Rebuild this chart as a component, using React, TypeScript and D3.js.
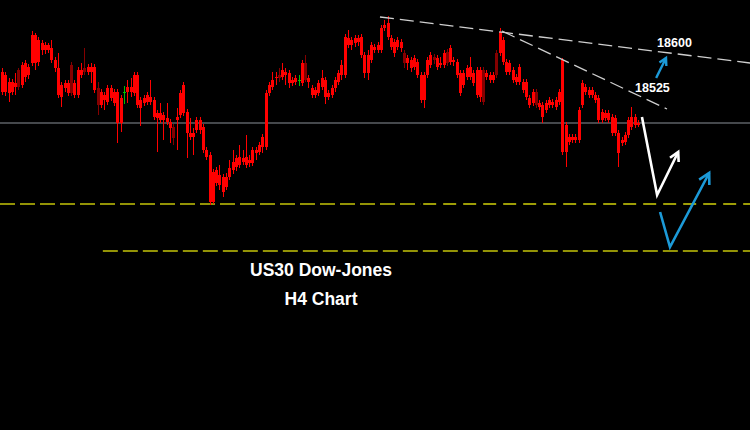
import React, { useRef, useEffect } from 'react';
import * as d3 from 'd3';
import { select } from 'd3';

const W = 750;
const H = 430;

// H4 bars, [open, high, low, close]
const candles: [number, number, number, number][] = [
  [18556, 18564, 18510, 18516], [18550, 18556, 18508, 18516], [18536, 18544, 18496, 18514], [18536, 18542, 18510, 18516],
  [18534, 18554, 18510, 18526], [18560, 18564, 18520, 18526], [18570, 18576, 18524, 18530], [18574, 18580, 18536, 18546],
  [18566, 18572, 18542, 18550], [18574, 18638, 18568, 18630], [18630, 18634, 18560, 18574], [18620, 18626, 18568, 18576],
  [18614, 18620, 18590, 18600], [18610, 18616, 18592, 18600], [18610, 18614, 18594, 18600], [18604, 18620, 18574, 18580],
  [18580, 18586, 18556, 18564], [18564, 18594, 18504, 18510], [18530, 18536, 18486, 18506], [18534, 18540, 18516, 18524],
  [18534, 18540, 18508, 18514], [18570, 18576, 18508, 18514], [18534, 18540, 18504, 18510], [18560, 18566, 18504, 18510],
  [18560, 18574, 18544, 18550], [18564, 18604, 18550, 18556], [18566, 18572, 18550, 18556], [18566, 18574, 18534, 18556],
  [18566, 18572, 18514, 18520], [18524, 18536, 18470, 18490], [18516, 18522, 18484, 18490], [18510, 18516, 18480, 18500],
  [18524, 18530, 18490, 18496], [18524, 18530, 18498, 18504], [18516, 18522, 18488, 18494], [18516, 18522, 18414, 18454],
  [18504, 18510, 18436, 18454], [18512, 18528, 18492, 18516], [18526, 18540, 18494, 18516], [18526, 18544, 18506, 18516],
  [18550, 18556, 18508, 18514], [18550, 18556, 18484, 18490], [18500, 18506, 18448, 18484], [18504, 18510, 18488, 18494],
  [18510, 18516, 18490, 18496], [18506, 18540, 18490, 18496], [18500, 18506, 18460, 18466], [18474, 18480, 18396, 18464],
  [18474, 18494, 18454, 18460], [18470, 18476, 18420, 18460], [18464, 18494, 18450, 18456], [18456, 18462, 18414, 18444],
  [18446, 18452, 18410, 18424], [18466, 18484, 18400, 18460], [18514, 18520, 18464, 18470], [18530, 18536, 18468, 18474],
  [18476, 18482, 18384, 18434], [18434, 18464, 18420, 18426], [18434, 18444, 18390, 18426], [18460, 18466, 18434, 18440],
  [18460, 18466, 18432, 18440], [18446, 18452, 18394, 18400], [18400, 18406, 18380, 18386], [18390, 18396, 18290, 18296],
  [18356, 18362, 18292, 18296], [18360, 18366, 18328, 18334], [18350, 18370, 18320, 18330], [18346, 18352, 18306, 18316],
  [18346, 18354, 18320, 18326], [18364, 18380, 18340, 18346], [18376, 18400, 18352, 18360], [18384, 18390, 18358, 18366],
  [18386, 18410, 18364, 18370], [18384, 18400, 18370, 18376], [18386, 18430, 18364, 18370], [18380, 18390, 18366, 18374],
  [18400, 18406, 18368, 18374], [18400, 18406, 18380, 18394], [18410, 18416, 18390, 18396], [18426, 18432, 18394, 18406],
  [18406, 18520, 18400, 18514], [18530, 18536, 18508, 18514], [18540, 18556, 18520, 18526], [18546, 18556, 18530, 18544],
  [18550, 18564, 18536, 18544], [18560, 18574, 18540, 18546], [18556, 18564, 18530, 18550], [18554, 18560, 18524, 18534],
  [18540, 18546, 18528, 18534], [18544, 18550, 18530, 18536], [18538, 18550, 18528, 18540], [18574, 18580, 18528, 18534],
  [18574, 18590, 18536, 18540], [18544, 18550, 18524, 18536], [18524, 18530, 18504, 18510], [18520, 18526, 18504, 18510],
  [18534, 18540, 18508, 18514], [18544, 18560, 18520, 18526], [18540, 18546, 18492, 18506], [18514, 18520, 18500, 18506],
  [18524, 18530, 18504, 18510], [18540, 18546, 18516, 18524], [18554, 18560, 18530, 18536], [18570, 18580, 18540, 18550],
  [18550, 18632, 18544, 18626], [18624, 18640, 18604, 18610], [18620, 18626, 18600, 18610], [18624, 18630, 18606, 18614],
  [18624, 18630, 18608, 18616], [18626, 18632, 18584, 18590], [18590, 18596, 18544, 18554], [18590, 18600, 18540, 18554],
  [18610, 18616, 18574, 18580], [18606, 18612, 18594, 18600], [18610, 18616, 18594, 18600], [18600, 18650, 18594, 18644],
  [18650, 18660, 18638, 18644], [18654, 18668, 18620, 18626], [18624, 18630, 18600, 18606], [18616, 18622, 18586, 18594],
  [18620, 18626, 18600, 18606], [18616, 18622, 18596, 18604], [18594, 18600, 18564, 18574], [18584, 18590, 18560, 18574],
  [18580, 18586, 18556, 18564], [18584, 18590, 18560, 18566], [18576, 18582, 18544, 18550], [18550, 18556, 18494, 18500],
  [18550, 18556, 18484, 18500], [18580, 18586, 18544, 18550], [18590, 18596, 18564, 18570], [18586, 18592, 18572, 18580],
  [18584, 18590, 18560, 18566], [18574, 18586, 18564, 18570], [18594, 18600, 18564, 18570], [18596, 18602, 18568, 18574],
  [18604, 18610, 18570, 18576], [18580, 18586, 18568, 18576], [18576, 18582, 18544, 18550], [18554, 18560, 18508, 18514],
  [18554, 18560, 18524, 18530], [18564, 18570, 18540, 18546], [18566, 18586, 18540, 18546], [18554, 18560, 18528, 18534],
  [18560, 18566, 18504, 18510], [18560, 18566, 18496, 18506], [18560, 18566, 18490, 18496], [18554, 18560, 18540, 18546],
  [18550, 18556, 18534, 18540], [18550, 18556, 18534, 18540], [18594, 18600, 18544, 18550], [18594, 18644, 18588, 18636],
  [18620, 18626, 18570, 18576], [18576, 18582, 18550, 18556], [18574, 18580, 18550, 18556], [18560, 18566, 18534, 18540],
  [18546, 18552, 18530, 18536], [18566, 18572, 18530, 18536], [18536, 18542, 18514, 18520], [18536, 18542, 18500, 18506],
  [18504, 18510, 18484, 18490], [18516, 18522, 18488, 18494], [18516, 18522, 18484, 18490], [18494, 18500, 18480, 18486],
  [18490, 18496, 18454, 18466], [18494, 18500, 18474, 18480], [18500, 18506, 18484, 18490], [18496, 18502, 18484, 18490],
  [18500, 18506, 18480, 18486], [18516, 18522, 18490, 18496], [18580, 18584, 18390, 18396], [18450, 18456, 18366, 18396],
  [18426, 18432, 18410, 18416], [18426, 18432, 18414, 18420], [18426, 18432, 18414, 18420], [18480, 18486, 18414, 18420],
  [18534, 18540, 18484, 18490], [18526, 18532, 18510, 18516], [18520, 18526, 18504, 18510], [18520, 18526, 18504, 18510],
  [18510, 18516, 18494, 18500], [18504, 18510, 18454, 18460], [18476, 18482, 18454, 18460], [18474, 18480, 18458, 18464],
  [18474, 18480, 18454, 18460], [18466, 18472, 18428, 18434], [18464, 18470, 18428, 18434], [18434, 18440, 18366, 18394],
  [18420, 18426, 18408, 18414], [18430, 18436, 18410, 18416], [18460, 18466, 18424, 18430], [18466, 18486, 18440, 18446],
  [18466, 18472, 18444, 18450], [18454, 18460, 18446, 18450],
];

const dimBars = [5, 21, 25, 29, 52, 84, 92, 122, 131, 135, 146, 150, 162];
const greenBars = [37, 90];

// horizontal levels
const midLine = 18454;
const support1 = 18292;
const support2 = 18198;
const support1Split = 126.9; // bar where the old support turns into the thin projection
const support2Start = 30.6;

// trend lines, [bar, price]
const upperTrend: [number, number][] = [[114.7, 18666], [227, 18574]];
const lowerTrend: [number, number][] = [[151.7, 18638], [201.8, 18482]];

// projection arrows, [bar, price]
const whiteArrow: [number, number][] = [[194.2, 18466], [198.8, 18310], [205.2, 18396]];
const blueArrow: [number, number][] = [[199.7, 18276], [202.7, 18206], [214.6, 18354]];
const targetArrow: [number, number][] = [[198.5, 18544], [201.5, 18584]];

const targetLabels = ['18600', '18525'];
const targetPos: [number, number][] = [[198.8, 18606], [192.1, 18516]];

const titleLines = ['US30 Dow-Jones', 'H4 Chart'];

function App() {
  const ref = useRef<SVGSVGElement>(null);

  useEffect(() => {
    const node = ref.current;
    if (!node) return;
    node.querySelectorAll('*').forEach(n => n.remove());
    const svg = select(node);

    const x = d3.scaleLinear().domain([0, candles.length - 1]).range([2, 638]);
    const y = d3.scaleLinear().domain([17840, 18700]).range([H, 0]);
    const bodyW = 3;

    svg.append('rect').attr('width', W).attr('height', H).attr('fill', '#000');

    // levels
    svg.append('line')
      .attr('x1', 0).attr('x2', W)
      .attr('y1', y(midLine)).attr('y2', y(midLine))
      .attr('stroke', '#8a8f98').attr('stroke-width', 1.2);

    svg.append('line')
      .attr('x1', 0).attr('x2', x(support1Split))
      .attr('y1', y(support1)).attr('y2', y(support1))
      .attr('stroke', '#939306').attr('stroke-width', 2)
      .attr('stroke-dasharray', '15 5');
    svg.append('line')
      .attr('x1', x(support1Split) + 3).attr('x2', W)
      .attr('y1', y(support1)).attr('y2', y(support1))
      .attr('stroke', '#d2d20a').attr('stroke-width', 1.3)
      .attr('stroke-dasharray', '13 7');
    svg.append('line')
      .attr('x1', x(support2Start)).attr('x2', W)
      .attr('y1', y(support2)).attr('y2', y(support2))
      .attr('stroke', '#939306').attr('stroke-width', 2)
      .attr('stroke-dasharray', '15 5');

    // candles
    const g = svg.append('g').attr('shape-rendering', 'crispEdges');
    candles.forEach((c, i) => {
      const [o, hi, lo, cl] = c;
      const col = greenBars.includes(i) ? '#00c000' : dimBars.includes(i) ? '#850000' : '#ff0000';
      const cx = Math.round(x(i));
      g.append('rect')
        .attr('x', cx).attr('width', 1)
        .attr('y', y(hi)).attr('height', y(lo) - y(hi))
        .attr('fill', col);
      if (greenBars.includes(i)) return;
      const top = y(Math.max(o, cl));
      const bh = Math.max(1, y(Math.min(o, cl)) - top);
      g.append('rect')
        .attr('x', cx - 1).attr('width', bodyW)
        .attr('y', top).attr('height', bh)
        .attr('fill', col);
    });
    // doji ticks on the green bars
    greenBars.forEach(i => {
      g.append('rect')
        .attr('x', Math.round(x(i)) - 1).attr('width', 3)
        .attr('y', y(candles[i][3])).attr('height', 1)
        .attr('fill', '#00c000');
    });

    // trend lines
    const line = d3.line<[number, number]>().x(d => x(d[0])).y(d => y(d[1]));
    [upperTrend, lowerTrend].forEach(t => {
      svg.append('path')
        .attr('d', line(t))
        .attr('fill', 'none')
        .attr('stroke', '#cfcfcf').attr('stroke-width', 1.3)
        .attr('stroke-dasharray', '14 6');
    });

    // arrows with open heads
    const drawArrow = (pts: [number, number][], color: string, w: number, head: number) => {
      svg.append('path')
        .attr('d', line(pts))
        .attr('fill', 'none')
        .attr('stroke', color).attr('stroke-width', w)
        .attr('stroke-linejoin', 'miter');
      const a = pts[pts.length - 2];
      const b = pts[pts.length - 1];
      const tx = x(b[0]), ty = y(b[1]);
      const ang = Math.atan2(ty - y(a[1]), tx - x(a[0]));
      const arm = (s: number) => [tx - head * Math.cos(ang + s), ty - head * Math.sin(ang + s)];
      const p1 = arm(0.5), p2 = arm(-0.5);
      svg.append('path')
        .attr('d', `M${p1[0]},${p1[1]}L${tx},${ty}L${p2[0]},${p2[1]}`)
        .attr('fill', 'none')
        .attr('stroke', color).attr('stroke-width', w);
    };
    drawArrow(whiteArrow, '#ffffff', 2.6, 10);
    drawArrow(blueArrow, '#1c9ad8', 2.6, 12);
    drawArrow(targetArrow, '#1c9ad8', 2.4, 8);

    // target labels
    targetLabels.forEach((t, i) => {
      svg.append('text')
        .attr('x', x(targetPos[i][0])).attr('y', y(targetPos[i][1]))
        .attr('fill', '#fff')
        .attr('font-family', '"Liberation Sans", Arial, sans-serif')
        .attr('font-weight', 'bold').attr('font-size', 12.5)
        .text(t);
    });

    // title
    titleLines.forEach((t, i) => {
      svg.append('text')
        .attr('x', 321).attr('y', 276 + i * 29)
        .attr('text-anchor', 'middle')
        .attr('fill', '#fff')
        .attr('font-family', '"Liberation Sans", Arial, sans-serif')
        .attr('font-weight', 'bold').attr('font-size', 17.5)
        .text(t);
    });
  }, []);

  return (
    <svg ref={ref} width={W} height={H} style={{ position: 'absolute', left: 0, top: 0, display: 'block' }}></svg>
  );
}

export default App;
